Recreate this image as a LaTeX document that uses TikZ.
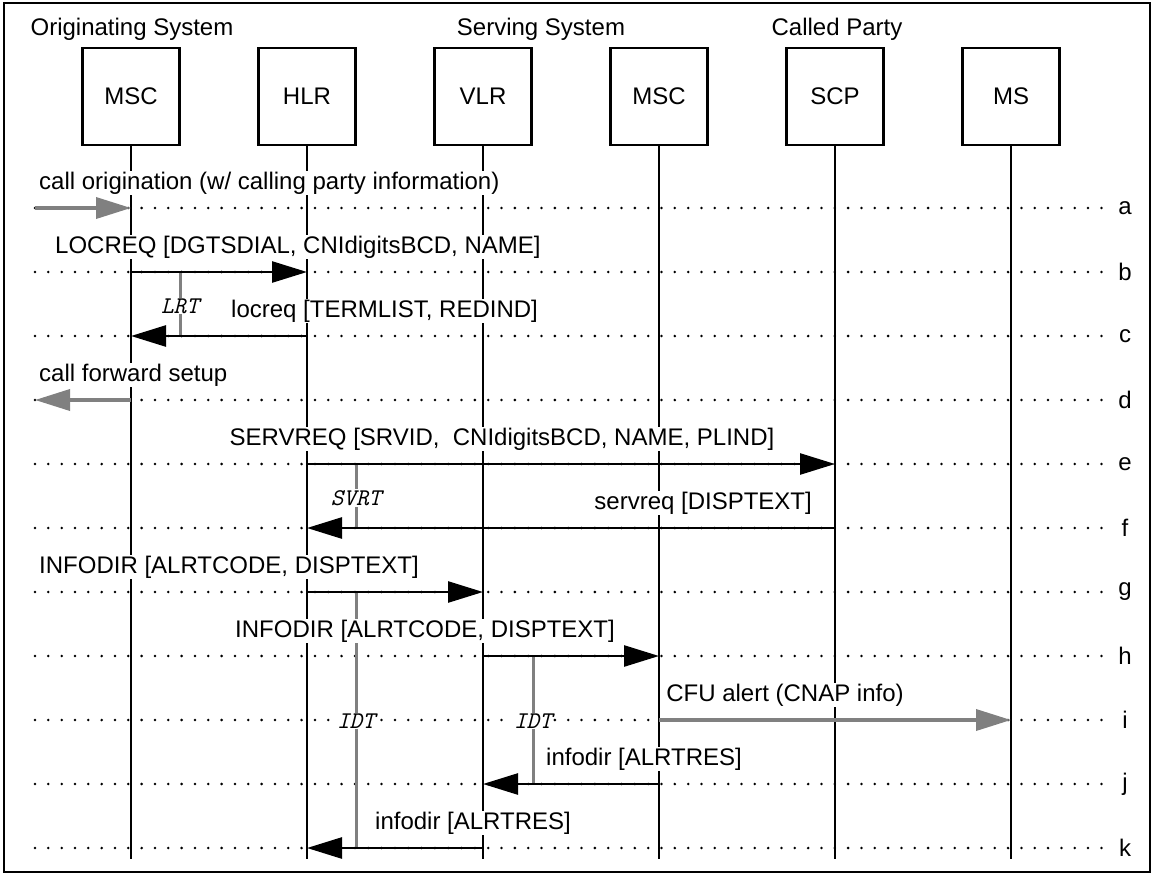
\documentclass[tikz,border=0pt]{standalone}
\usepackage{fontspec}
\setmainfont{Liberation Sans}
\usetikzlibrary{arrows.meta}
\definecolor{msggray}{RGB}{128,128,128}

\begin{document}
\begin{tikzpicture}[x=1pt,y=-1pt,
  txt/.style={font=\fontsize{24}{28}\selectfont},
  ent/.style={draw, line width=2.6pt, minimum width=97pt, minimum height=97pt,
              inner sep=0pt, txt},
  life/.style={line width=2.6pt},
  guide/.style={line width=2.8pt, line cap=round, dash pattern=on 0pt off 13.33pt},
  msg/.style={line width=2.6pt, -{Triangle[length=35pt,width=21pt]}},
  ext/.style={line width=3.6pt, draw=msggray, -{Triangle[length=35pt,width=21pt]}},
  lbl/.style={txt, fill=white, inner sep=1pt},
  tmr/.style={line width=3pt, draw=msggray},
  tlbl/.style={fill=white, inner sep=1pt,
               font=\ttfamily\itshape\fontsize{24}{28}\selectfont},
  rowid/.style={txt, inner sep=0pt}
]
% canvas and frame
\useasboundingbox (0,0) rectangle (1154,875);
\draw[line width=2.6pt] (4,3) rectangle (1150,872);

% group headings
\node[txt, anchor=base] (orig)   at (132,36) {Originating System};
\node[txt, anchor=base] (serv)   at (541,36) {Serving System};
\node[txt, anchor=base] (called) at (837,36) {Called Party};

% step markers a..k with their dotted guides
\foreach \r [count=\i] in {a,b,c,d,e,f,g,h,i,j,k}{
  \pgfmathsetmacro{\yy}{208+64*(\i-1)}
  \node[rowid] (r\r) at (1125,\yy) {\r};
  \coordinate (s\r) at (35,\yy);
  \coordinate (e\r) at (1103,\yy);
  \draw[guide] (s\r) -- (e\r);
}

% network entities and their lifelines
\foreach \n/\x/\t in {msc1/131/MSC, hlr/307/HLR, vlr/483/VLR, msc2/659/MSC, scp/835/SCP, ms/1011/MS}{
  \node[ent, fill=white] (\n) at (\x,96.5) {\t};
  \coordinate (\n-end) at (\x,859);
  \draw[life] (\n.south) -- (\n-end);
}

% timer bars
\coordinate (lrtA) at (180,272);  \coordinate (lrtB) at (180,336);
\coordinate (svrtA) at (356,464); \coordinate (svrtB) at (356,528);
\coordinate (idtA) at (356,592);  \coordinate (idtB) at (356,848);
\coordinate (idtC) at (533,656);  \coordinate (idtD) at (533,784);
\draw[tmr] (lrtA) -- (lrtB);
\draw[tmr] (svrtA) -- (svrtB);
\draw[tmr] (idtA) -- (idtB);
\draw[tmr] (idtC) -- (idtD);

% messages
\draw[ext] (sa) -- (msc1 |- ra);
\draw[msg] (msc1 |- rb) -- (hlr |- rb);
\draw[msg] (hlr |- rc) -- (msc1 |- rc);
\draw[ext] (msc1 |- rd) -- (sd);
\draw[msg] (hlr |- re) -- (scp |- re);
\draw[msg] (scp |- rf) -- (hlr |- rf);
\draw[msg] (hlr |- rg) -- (vlr |- rg);
\draw[msg] (vlr |- rh) -- (msc2 |- rh);
\draw[ext] (msc2 |- ri) -- (ms |- ri);
\draw[msg] (msc2 |- rj) -- (vlr |- rj);
\draw[msg] (vlr |- rk) -- (hlr |- rk);

% message labels
\node[lbl, anchor=base west] (la) at (38,189.5) {call origination (w/ calling party information)};
\node[lbl, anchor=base west] (lb) at (54,253.5) {LOCREQ [DGTSDIAL, CNIdigitsBCD, NAME]};
\node[lbl, anchor=base west] (lc) at (230,317.5) {locreq [TERMLIST, REDIND]};
\node[lbl, anchor=base west] (ld) at (38,381.5) {call forward setup};
\node[lbl, anchor=base] (le) at (502,445.5) {SERVREQ [SRVID,\ \ CNIdigitsBCD, NAME, PLIND]};
\node[lbl, anchor=base east] (lf) at (813,509.5) {servreq [DISPTEXT]};
\node[lbl, anchor=base west] (lg) at (38,573.5) {INFODIR [ALRTCODE, DISPTEXT]};
\node[lbl, anchor=base] (lh) at (425,637.5) {INFODIR [ALRTCODE, DISPTEXT]};
\node[lbl, anchor=base] (li) at (785,701.5) {CFU alert (CNAP info)};
\node[lbl, anchor=base] (lj) at (644,765.5) {infodir [ALRTRES]};
\node[lbl, anchor=base] (lk) at (473,829.5) {infodir [ALRTRES]};

% timer names
\node[tlbl] (lrt)  at (180,306) {LRT};
\node[tlbl] (svrt) at (356,498) {SVRT};
\node[tlbl] (idt1) at (356,721) {IDT};
\node[tlbl] (idt2) at (533,721) {IDT};
\end{tikzpicture}
\end{document}
